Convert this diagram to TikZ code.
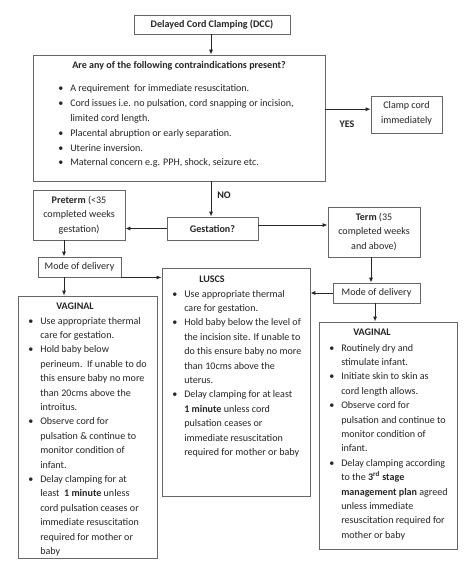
\documentclass[tikz,border=0pt]{standalone}
\usepackage{fontspec}
\setmainfont{Carlito}
\usepackage{array}
\usetikzlibrary{arrows.meta}
\newcommand{\fs}{\fontsize{7.55}{10.8}\selectfont}
\newcommand{\fsm}{\fontsize{7.55}{11.1}\selectfont}
\tikzset{
  box/.style={draw=black!60, line width=0.7pt, inner sep=0pt},
  arr/.style={draw=black!85, line width=0.7pt, -{Latex[length=3.6pt,width=3pt]}},
  txt/.style={inner sep=0pt, text=black!85, font=\fs},
  lbl/.style={inner sep=0pt, text=black!85, font=\fs\bfseries},
}
\begin{document}
\begin{tikzpicture}[x=0.75pt, y=-0.75pt]
\useasboundingbox (0,0) rectangle (474,566);
\fill[white] (0,0) rectangle (474,566);
% boxes
\node[box, minimum width=117pt, minimum height=14.25pt] (dcc) at (212,24.5) {};
\node[box, minimum width=219pt, minimum height=94.5pt] (main) at (179,118) {};
\node[box, minimum width=53.25pt, minimum height=27.75pt] (clamp) at (406.5,114.5) {};
\node[box, minimum width=69pt, minimum height=37.5pt] (pre) at (79,215) {};
\node[box, minimum width=68.25pt, minimum height=17.25pt] (gest) at (212.5,228.5) {};
\node[box, minimum width=69pt, minimum height=37.5pt] (term) at (374,232) {};
\node[box, minimum width=62.25pt, minimum height=15pt] (model) at (79.5,267) {};
\node[box, minimum width=65.25pt, minimum height=15pt] (moder) at (376.5,293) {};
\node[box, minimum width=111pt, minimum height=171pt] (luscs) at (236,382) {};
\node[box, minimum width=104.25pt, minimum height=196.5pt] (vagl) at (87.5,427) {};
\node[box, minimum width=103.5pt, minimum height=170.25pt] (vagr) at (388,435.5) {};
% simple texts
\node[lbl] (tdcc) at (dcc.center) {Delayed Cord Clamping (DCC)};
\node[txt, align=center] (tclamp) at (406.5,113.5) {Clamp cord\\immediately};
\node[txt, align=center] (tpre) at (79,215) {\textbf{Preterm} (<35\\completed weeks\\gestation)};
\node[lbl] (tgest) at (gest.center) {Gestation?};
\node[txt, align=center] (tterm) at (374,232) {\textbf{Term} (35\\completed weeks\\and above)};
\node[txt] (tmodel) at (model.center) {Mode of delivery};
\node[txt] (tmoder) at (moder.center) {Mode of delivery};
\node[lbl] (yes) at (347,124) {YES};
\node[lbl] (no) at (224,195) {NO};
% main box
\node[lbl] (hmain) at (179,66) {Are any of the following contraindications present?};
\node[txt, font=\fsm, anchor=base west] (lmain) at (58,92) {\begin{tabular}[t]{@{}p{9pt}@{}l@{}}
\textbullet & A requirement\ \ for immediate resuscitation.\\
\textbullet & Cord issues i.e. no pulsation, cord snapping or incision,\\
 & limited cord length.\\
\textbullet & Placental abruption or early separation.\\
\textbullet & Uterine inversion.\\
\textbullet & Maternal concern e.g. PPH, shock, seizure etc.
\end{tabular}};
% LUSCS
\node[lbl] (hluscs) at (212,279) {LUSCS};
\node[txt, anchor=base west] (lluscs) at (172,297) {\begin{tabular}[t]{@{}p{9pt}@{}l@{}}
\textbullet & Use appropriate thermal\\
 & care for gestation.\\
\textbullet & Hold baby below the level of\\
 & the incision site. If unable to\\
 & do this ensure baby no more\\
 & than 10cms above the\\
 & uterus.\\
\textbullet & Delay clamping for at least\\
 & \textbf{1 minute} unless cord\\
 & pulsation ceases or\\
 & immediate resuscitation\\
 & required for mother or baby
\end{tabular}};
% left vaginal
\node[lbl] (hvagl) at (75,306) {VAGINAL};
\node[txt, anchor=base west] (lvagl) at (28,324) {\begin{tabular}[t]{@{}p{9pt}@{}l@{}}
\textbullet & Use appropriate thermal\\
 & care for gestation.\\
\textbullet & Hold baby below\\
 & perineum.\ \ If unable to do\\
 & this ensure baby no more\\
 & than 20cms above the\\
 & introitus.\\
\textbullet & Observe cord for\\
 & pulsation \& continue to\\
 & monitor condition of\\
 & infant.\\
\textbullet & Delay clamping for at\\
 & least\ \ \textbf{1 minute} unless\\
 & cord pulsation ceases or\\
 & immediate resuscitation\\
 & required for mother or\\
 & baby
\end{tabular}};
% right vaginal
\node[lbl] (hvagr) at (372,332) {VAGINAL};
\node[txt, anchor=base west] (lvagr) at (329,351) {\begin{tabular}[t]{@{}p{9pt}@{}l@{}}
\textbullet & Routinely dry and\\
 & stimulate infant.\\
\textbullet & Initiate skin to skin as\\
 & cord length allows.\\
\textbullet & Observe cord for\\
 & pulsation and continue to\\
 & monitor condition of\\
 & infant.\\
\textbullet & Delay clamping according\\
 & to the \textbf{3\textsuperscript{rd} stage}\\
 & \textbf{management plan} agreed\\
 & unless immediate\\
 & resuscitation required for\\
 & mother or baby
\end{tabular}};
% connectors
\draw[arr] ([xshift=-0.75pt]dcc.south) -- ([xshift=-0.75pt]dcc.south |- main.north);
\draw[arr] ([yshift=4pt]main.east |- clamp.west) -- ([yshift=4pt]clamp.west);
\draw[arr] ([xshift=-1.1pt]gest.north |- main.south) -- ([xshift=-1.1pt]gest.north);
\draw[arr] (gest.west) -- (gest.west -| pre.east);
\draw[arr] ([yshift=2.6pt]gest.east) -- ([yshift=2.6pt]gest.east -| term.west);
\draw[arr] ([xshift=-11.25pt]pre.south) -- ([xshift=-11.25pt]pre.south |- model.north);
\draw[arr] ([xshift=-11.6pt]model.south) -- ([xshift=-11.6pt]model.south |- vagl.north);
\draw[arr] (model.south east) -- (model.south east -| luscs.west);
\draw[arr] ([xshift=-2.25pt]term.south) -- ([xshift=-2.25pt]term.south |- moder.north);
\draw[arr] (moder.west) -- (moder.west -| luscs.east);
\draw[arr] ([xshift=-1.1pt]moder.south) -- ([xshift=-1.1pt]moder.south |- vagr.north);
\end{tikzpicture}
\end{document}
